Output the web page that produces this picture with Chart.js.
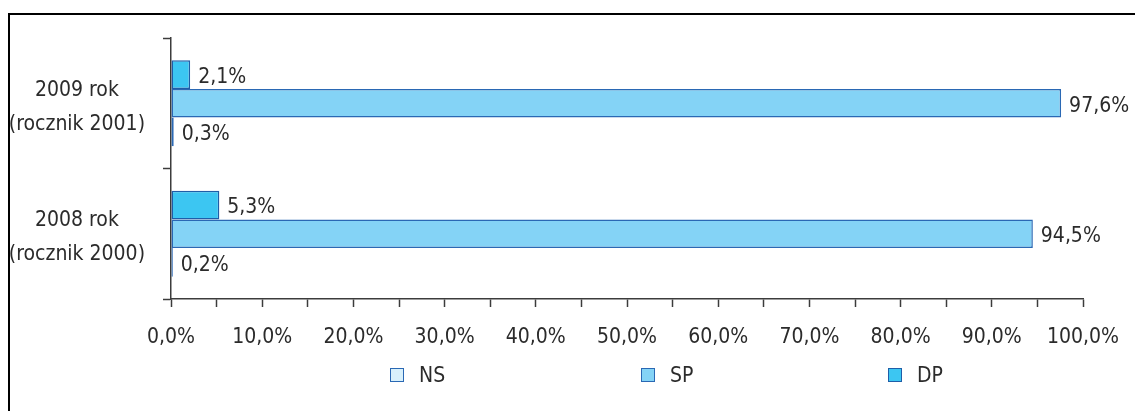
<!DOCTYPE html>
<html>
<head>
<meta charset="utf-8">
<title>NS / SP / DP</title>
<script src="https://cdn.jsdelivr.net/npm/chart.js@4.4.1/dist/chart.umd.min.js"></script>
<style>
    html, body {
        margin: 0;
        padding: 0;
        background: #fff;
    }
    body {
        width: 1135px;
        height: 411px;
        overflow: hidden;
        position: relative;
        font-family: 'DejaVu Sans Condensed', sans-serif;
        color: #2b2b2b;
    }
    #frame {
        position: absolute;
        left: 8px;
        top: 13px;
        width: 1125px;
        height: 396px;
        border-top: 2px solid #000;
        border-left: 2px solid #000;
    }
    #chartBox {
        position: relative;
        width: 1125px;
        height: 396px;
    }
    #legend {
        position: absolute;
        left: 390px;
        top: 364px;
        display: flex;
    }
    #legend .item {
        display: flex;
        align-items: center;
        height: 22px;
        font-size: 21px;
    }
    #legend .swatch {
        width: 14px;
        height: 14px;
        box-sizing: border-box;
        border: 1.5px solid;
        margin-right: 15px;
    }
</style>
</head>
<body>
<div id="frame">
    <div id="chartBox"><canvas id="barChart"></canvas></div>
</div>
<div id="legend"></div>

<script>
/* ========================================
   Data
   ======================================== */

const categories = [
    ['2009 rok', '(rocznik 2001)'],
    ['2008 rok', '(rocznik 2000)']
];

const seriesNames = ['DP', 'SP', 'NS'];
const dpValues = [2.1, 5.3];
const spValues = [97.6, 94.5];
const nsValues = [0.3, 0.2];

const xTickValues = [0, 10, 20, 30, 40, 50, 60, 70, 80, 90, 100];
const xTickLabels = ['0,0%', '10,0%', '20,0%', '30,0%', '40,0%', '50,0%',
                     '60,0%', '70,0%', '80,0%', '90,0%', '100,0%'];

/* ========================================
   Styles
   ======================================== */

const FONT_FAMILY = "'DejaVu Sans Condensed', sans-serif";
const FONT_SIZE = 21;
const TEXT_COLOR = '#2b2b2b';
const AXIS_COLOR = '#3c3c3c';

const fills = { DP: '#3cc6f2', SP: '#84d3f6', NS: '#d8f0fb' };
const borders = { DP: '#1f5ea8', SP: '#2a68b4', NS: '#2a68b4' };

// legend spacing (px between item starts)
const legendSteps = [251, 247, 0];

/**
 * Format a percentage value with a decimal comma
 */
function formatPct(value) {
    return value.toFixed(1).replace('.', ',') + '%';
}

/* ========================================
   Value labels drawn next to each bar
   ======================================== */

const valueLabels = {
    id: 'valueLabels',
    afterDatasetsDraw(chart) {
        const ctx = chart.ctx;
        ctx.save();
        ctx.font = FONT_SIZE + 'px ' + FONT_FAMILY;
        ctx.fillStyle = TEXT_COLOR;
        ctx.textAlign = 'left';
        ctx.textBaseline = 'middle';
        chart.data.datasets.forEach((ds, di) => {
            const meta = chart.getDatasetMeta(di);
            meta.data.forEach((bar, i) => {
                ctx.fillText(formatPct(ds.data[i]), bar.x + 8, bar.y + 3);
            });
        });
        ctx.restore();
    }
};

/* ========================================
   Chart
   ======================================== */

const seriesData = { DP: dpValues, SP: spValues, NS: nsValues };

const chart = new Chart(document.getElementById('barChart'), {
    type: 'bar',
    data: {
        labels: categories,
        datasets: seriesNames.map(name => ({
            label: name,
            data: seriesData[name],
            backgroundColor: fills[name],
            borderColor: borders[name],
            borderWidth: 1.5,
            borderSkipped: false,
            categoryPercentage: 0.66,
            barPercentage: 1.0
        }))
    },
    options: {
        indexAxis: 'y',
        responsive: true,
        maintainAspectRatio: false,
        animation: false,
        layout: {
            padding: { top: 23, right: 52, bottom: 62, left: 0 }
        },
        plugins: {
            legend: { display: false },
            tooltip: { enabled: false }
        },
        scales: {
            x: {
                min: 0,
                max: 100,
                afterFit(scale) {
                    // fixed height; label overhang is covered by layout padding
                    scale.height = 50;
                    scale.paddingLeft = 0;
                    scale.paddingRight = 0;
                },
                border: { color: AXIS_COLOR, width: 1.5 },
                grid: {
                    drawOnChartArea: false,
                    tickLength: 8,
                    tickColor: AXIS_COLOR,
                    tickWidth: 1.5
                },
                ticks: {
                    stepSize: 5,
                    autoSkip: false,
                    maxRotation: 0,
                    padding: 18,
                    color: TEXT_COLOR,
                    font: { family: FONT_FAMILY, size: FONT_SIZE },
                    callback: function(value) {
                        const idx = xTickValues.indexOf(value);
                        return idx >= 0 ? xTickLabels[idx] : '';
                    }
                }
            },
            y: {
                afterFit(scale) {
                    // fixed axis width, no extra room for the label overhang
                    scale.width = 161;
                    scale.paddingTop = 0;
                    scale.paddingBottom = 0;
                },
                border: { color: AXIS_COLOR, width: 1.5 },
                grid: {
                    offset: true,
                    drawOnChartArea: false,
                    tickLength: 8,
                    tickColor: AXIS_COLOR,
                    tickWidth: 1.5
                },
                ticks: {
                    crossAlign: 'center',
                    padding: 18,
                    labelOffset: 4,
                    color: TEXT_COLOR,
                    font: { family: FONT_FAMILY, size: FONT_SIZE, lineHeight: 1.6 }
                }
            }
        }
    },
    plugins: [valueLabels]
});

/* ========================================
   HTML legend (NS, SP, DP order)
   ======================================== */

(function buildLegend() {
    const box = document.getElementById('legend');
    const order = chart.data.datasets.slice().reverse();
    order.forEach((ds, i) => {
        const item = document.createElement('div');
        item.className = 'item';
        if (legendSteps[i]) item.style.width = legendSteps[i] + 'px';
        const sw = document.createElement('span');
        sw.className = 'swatch';
        sw.style.background = ds.backgroundColor;
        sw.style.borderColor = ds.borderColor;
        const txt = document.createElement('span');
        txt.textContent = ds.label;
        item.appendChild(sw);
        item.appendChild(txt);
        box.appendChild(item);
    });
})();
</script>
</body>
</html>
